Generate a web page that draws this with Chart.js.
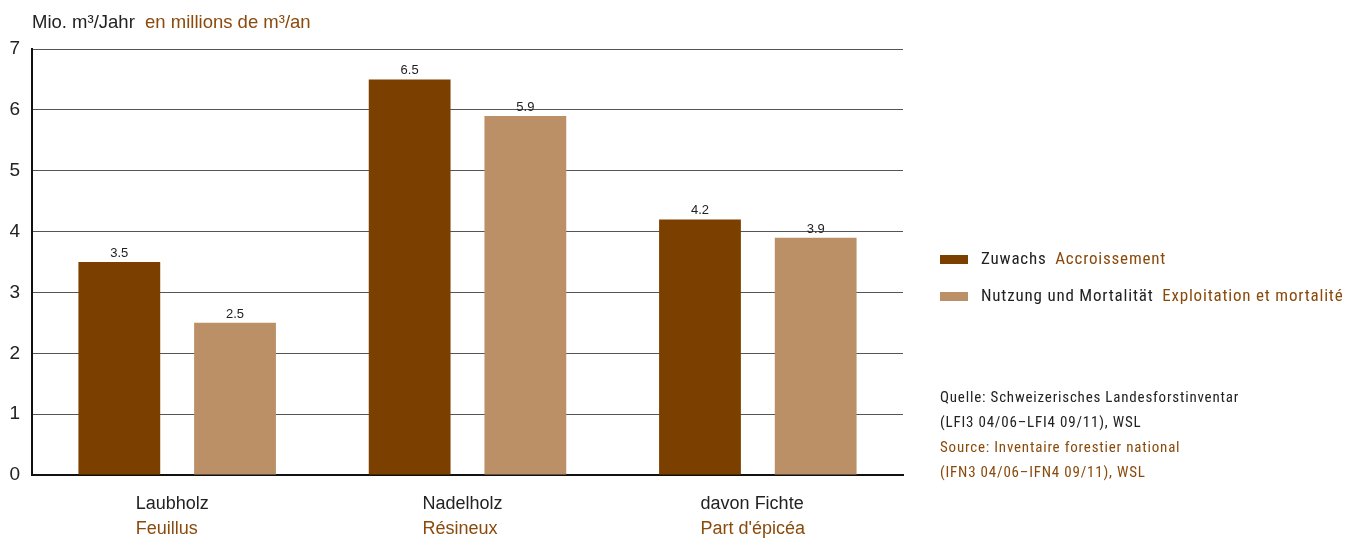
<!DOCTYPE html>
<html>
<head>
<meta charset="utf-8">
<script src="https://cdn.jsdelivr.net/npm/chart.js@4"></script>
<style>
  html, body { margin: 0; padding: 0; background: #fff; }
  #wrap { width: 1357px; height: 540px; position: relative; }
</style>
</head>
<body>
<div id="wrap"><canvas id="chart" width="1357" height="540"></canvas></div>
<script>
const categoriesDe = ['Laubholz', 'Nadelholz', 'davon Fichte'];
const categoriesFr = ['Feuillus', 'Résineux', "Part d'épicéa"];
const seriesDe = ['Zuwachs', 'Nutzung und Mortalität'];
const seriesFr = ['Accroissement', 'Exploitation et mortalité'];
const zuwachs = [3.5, 6.5, 4.2];
const nutzung = [2.5, 5.9, 3.9];
const unitDe = 'Mio. m³/Jahr';
const unitFr = 'en millions de m³/an';
const sourceLines = [
  ['Quelle: Schweizerisches Landesforstinventar', 'de'],
  ['(LFI3 04/06–LFI4 09/11), WSL', 'de'],
  ['Source: Inventaire forestier national', 'fr'],
  ['(IFN3 04/06–IFN4 09/11), WSL', 'fr']
];

const DARK = '#7b4000';
const LIGHT = '#bb9067';
const TEXT = '#222222';
const BROWN = '#8a4a0c';
const FONT = '"Liberation Sans Narrow", "Liberation Sans", sans-serif';
const FONT2 = '"Roboto Condensed", "Liberation Sans Narrow", sans-serif';

// draws the two-language texts, value labels and legend
const extrasPlugin = {
  id: 'extras',
  afterDraw(chart) {
    const ctx = chart.ctx;
    const xs = chart.scales.x;
    const area = chart.chartArea;
    ctx.save();

    // unit title
    ctx.textBaseline = 'alphabetic';
    ctx.textAlign = 'left';
    ctx.font = '18.5px ' + FONT;
    ctx.fillStyle = TEXT;
    ctx.fillText(unitDe, 32, 28);
    const w = ctx.measureText(unitDe + '  ').width;
    ctx.fillStyle = BROWN;
    ctx.fillText(unitFr, 32 + w, 28);

    // value labels
    ctx.font = '13px "Liberation Sans", sans-serif';
    ctx.fillStyle = TEXT;
    ctx.textAlign = 'center';
    chart.data.datasets.forEach((ds, di) => {
      chart.getDatasetMeta(di).data.forEach((bar, i) => {
        ctx.fillText(ds.data[i].toFixed(1), bar.x, bar.y - 5);
      });
    });

    // category labels
    ctx.font = '18px ' + FONT;
    categoriesDe.forEach((de, i) => {
      const cx = xs.getPixelForValue(i) - 5;
      const wDe = ctx.measureText(de).width;
      const wFr = ctx.measureText(categoriesFr[i]).width;
      const left = cx - Math.max(wDe, wFr) / 2;
      ctx.textAlign = 'left';
      ctx.fillStyle = TEXT;
      ctx.fillText(de, left, area.bottom + 34);
      ctx.fillStyle = BROWN;
      ctx.fillText(categoriesFr[i], left, area.bottom + 59);
    });

    // legend
    ctx.font = '17px ' + FONT2;
    ctx.letterSpacing = '0.8px';
    chart.data.datasets.forEach((ds, i) => {
      const y = 260 + i * 37;
      ctx.fillStyle = ds.backgroundColor;
      ctx.fillRect(940, y - 5, 28, 9);
      ctx.textAlign = 'left';
      ctx.textBaseline = 'middle';
      ctx.fillStyle = TEXT;
      ctx.fillText(seriesDe[i], 981, y);
      const lw = ctx.measureText(seriesDe[i] + ' ').width;
      ctx.fillStyle = BROWN;
      ctx.fillText(seriesFr[i], 981 + lw + 4, y);
    });

    // source
    ctx.font = '15px ' + FONT2;
    ctx.letterSpacing = '0.8px';
    ctx.textBaseline = 'middle';
    sourceLines.forEach((ln, i) => {
      ctx.fillStyle = ln[1] === 'de' ? TEXT : BROWN;
      ctx.fillText(ln[0], 940, 398 + i * 25);
    });
    ctx.restore();
  }
};

new Chart(document.getElementById('chart'), {
  type: 'bar',
  data: {
    labels: categoriesDe,
    datasets: [
      { label: seriesDe[0], data: zuwachs, backgroundColor: DARK },
      { label: seriesDe[1], data: nutzung, backgroundColor: LIGHT }
    ]
  },
  options: {
    responsive: false,
    animation: false,
    categoryPercentage: 0.797,
    barPercentage: 0.707,
    layout: { padding: { top: 49, right: 454, bottom: 0, left: 0 } },
    plugins: { legend: { display: false }, tooltip: { enabled: false } },
    scales: {
      x: {
        grid: { display: false, drawTicks: false },
        border: { display: true, color: '#111', width: 2 },
        ticks: { display: false },
        afterFit: s => { s.height = 65; }
      },
      y: {
        min: 0,
        max: 7,
        ticks: {
          stepSize: 1,
          padding: 12,
          color: TEXT,
          font: { family: FONT, size: 19 }
        },
        grid: { color: '#555', lineWidth: 1, drawTicks: false },
        border: { display: true, color: '#111', width: 2 },
        afterFit: s => { s.width = 32; }
      }
    }
  },
  plugins: [extrasPlugin]
});
</script>
</body>
</html>
